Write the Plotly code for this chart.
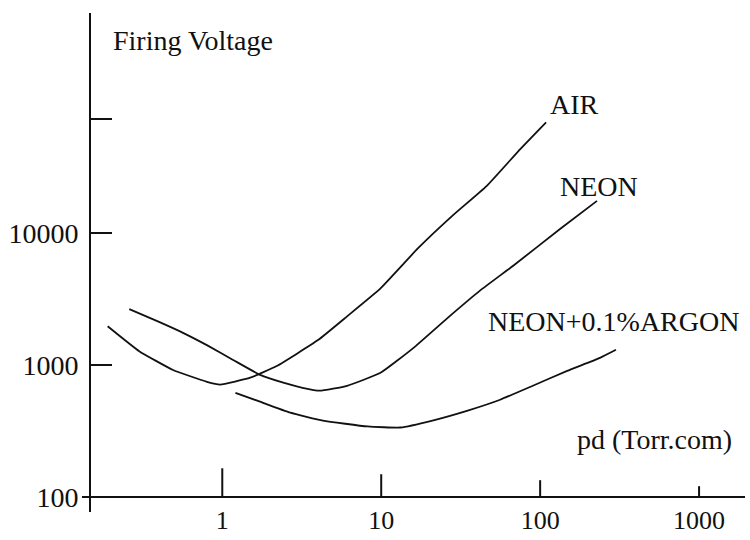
import plotly.graph_objects as go

# ---- data ----
air_pd = [0.19, 0.30, 0.49, 0.80, 0.97, 1.5, 2.2, 4.0, 6.1, 9.9, 17, 28, 46, 75, 109]
air_v = [1960, 1270, 915, 745, 710, 800, 980, 1540, 2330, 3790, 7600, 13400, 22500, 42900, 68400]

neon_pd = [0.26, 0.39, 0.57, 0.80, 1.17, 1.73, 2.42, 3.2, 4.1, 6.1, 9.9, 15.9, 26, 42, 68, 134, 228]
neon_v = [2640, 2140, 1740, 1410, 1090, 840, 733, 671, 638, 695, 871, 1340, 2250, 3660, 5650, 10700, 17400]

neonar_pd = [1.21, 1.66, 2.68, 4.3, 8.2, 13.2, 21, 35, 56, 90, 148, 238, 300]
neonar_v = [615, 536, 435, 379, 342, 336, 379, 451, 545, 695, 902, 1130, 1300]

x_ticks = [1, 10, 100, 1000]
x_tick_text = ["1", "10", "100", "1000"]
y_ticks = [100, 1000, 10000, 73000]
y_tick_text = ["100", "1000", "10000", ""]

series_names = ["AIR", "NEON", "NEON+0.1%ARGON"]
y_title = "Firing Voltage"
x_title = "pd (Torr.com)"

# ---- styling ----
FONT = "Liberation Serif"
INK = "#111111"
PLOT_H = 502
XAXIS_POS = 15 / PLOT_H
x_tick_len = [29, 23, 17, 11]

fig = go.Figure()
for xs, ys, nm in [(air_pd, air_v, series_names[0]),
                   (neon_pd, neon_v, series_names[1]),
                   (neonar_pd, neonar_v, series_names[2])]:
    fig.add_trace(go.Scatter(x=xs, y=ys, mode="lines", name=nm,
                             line=dict(color=INK, width=1.8, shape="spline", smoothing=0.4),
                             showlegend=False, hoverinfo="x+y+name"))

fig.update_layout(
    width=750, height=540,
    margin=dict(l=91, r=5, t=13, b=25),
    paper_bgcolor="white", plot_bgcolor="white",
    font=dict(family=FONT, color=INK, size=26),
    xaxis=dict(type="log", range=[-0.826, 3.289], anchor="free", position=XAXIS_POS,
               showline=False, showgrid=False, zeroline=False,
               tickvals=x_ticks, ticktext=x_tick_text, ticks="",
               ticklabelstandoff=5,
               tickfont=dict(family=FONT, size=26, color=INK)),
    yaxis=dict(type="log", range=[1.887, 5.662],
               showline=True, linecolor=INK, linewidth=2, mirror=False,
               showgrid=False, zeroline=False,
               tickvals=y_ticks, ticktext=y_tick_text,
               ticks="inside", ticklen=21, tickwidth=2, tickcolor=INK,
               ticklabelstandoff=5,
               tickfont=dict(family=FONT, size=28, color=INK)),
)

# x axis line (extends slightly left of the y axis)
fig.add_shape(type="line", xref="paper", yref="paper",
              x0=-9 / 654, x1=1.0, y0=XAXIS_POS, y1=XAXIS_POS,
              line=dict(color=INK, width=2))
# x tick marks of decreasing height
for tv, tl in zip(x_ticks, x_tick_len):
    fig.add_shape(type="line", xref="x", yref="paper",
                  x0=tv, x1=tv, y0=XAXIS_POS, y1=XAXIS_POS + tl / PLOT_H,
                  line=dict(color=INK, width=2))

ann_font = dict(family=FONT, size=28, color=INK)
def label(text, px, py):
    fig.add_annotation(text=text, xref="paper", yref="paper",
                       x=(px - 91) / 654, y=(515 - py) / PLOT_H,
                       xanchor="left", yanchor="middle", showarrow=False, font=ann_font)

label(y_title, 111, 41)
label(series_names[0], 548, 105)
label(series_names[1], 558, 188)
label(series_names[2], 486, 323)
label(x_title, 575, 442)

fig.write_html("out.html")
